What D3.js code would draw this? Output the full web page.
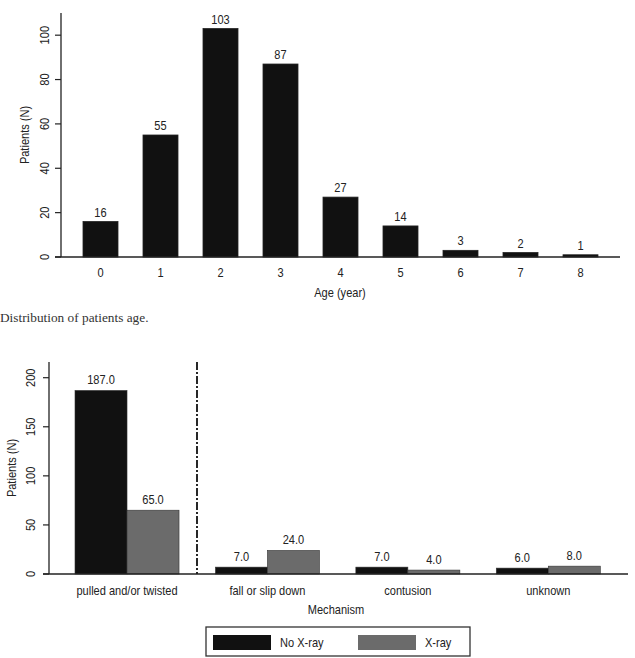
<!DOCTYPE html>
<html><head><meta charset="utf-8">
<script src="https://cdn.jsdelivr.net/npm/d3@7"></script>
<style>body{margin:0;background:#fff}svg{display:block}</style>
</head><body>
<svg id="c" width="635" height="658"></svg>
<script>
const ages = ["0","1","2","3","4","5","6","7","8"];
const ageCounts = [16,55,103,87,27,14,3,2,1];
const ageTicks = [0,20,40,60,80,100];

const mechanisms = ["pulled and/or twisted","fall or slip down","contusion","unknown"];
const seriesNames = ["No X-ray","X-ray"];
const noXray = [187,7,7,6];
const xray = [65,24,4,8];
const mechTicks = [0,50,100,150,200];

const svg = d3.select("#c");
const FONT = "'Liberation Sans', Arial, sans-serif";
const FS = 13;
const SX = 0.85; // narrow (condensed) look
const colors = {"No X-ray":"#111111","X-ray":"#6b6b6b"};
const H = (x,y)=>`translate(${x},${y}) scale(${SX},1)`;
const V = (x,y)=>`translate(${x},${y}) rotate(-90) scale(${SX},1)`;

// ---------- Top chart ----------
const y1 = d3.scaleLinear().domain([0,110]).range([257,13]);
const x1 = d3.scaleBand().domain(ages).range([70.5,610.5]).paddingInner(25/60).paddingOuter(12.5/60);
const g1 = svg.append("g").attr("font-family",FONT).attr("font-size",FS).attr("fill","#222");

g1.selectAll("rect.b").data(ageCounts).join("rect")
  .attr("x",(d,i)=>x1(ages[i])).attr("width",x1.bandwidth())
  .attr("y",d=>y1(d)).attr("height",d=>y1(0)-y1(d))
  .attr("fill","#111").attr("stroke","#222").attr("stroke-width",0.8);
g1.selectAll("text.v").data(ageCounts).join("text")
  .attr("transform",(d,i)=>H(x1(ages[i])+x1.bandwidth()/2, y1(d)-5))
  .attr("text-anchor","middle").text(d=>d);
// x axis
g1.append("line").attr("x1",55).attr("x2",620).attr("y1",y1(0)).attr("y2",y1(0)).attr("stroke","#222").attr("stroke-width",1.3);
g1.selectAll("text.xt").data(ages).join("text")
  .attr("transform",d=>H(x1(d)+x1.bandwidth()/2,277)).attr("text-anchor","middle").text(d=>d);
g1.append("text").attr("transform",H(340,297)).attr("text-anchor","middle").text("Age (year)");
// y axis
g1.append("line").attr("x1",61).attr("x2",61).attr("y1",y1(110)).attr("y2",y1(0)).attr("stroke","#222").attr("stroke-width",1.3);
g1.selectAll("line.yt").data(ageTicks).join("line")
  .attr("x1",55).attr("x2",61).attr("y1",d=>y1(d)).attr("y2",d=>y1(d)).attr("stroke","#222").attr("stroke-width",1.2);
g1.selectAll("text.yl").data(ageTicks).join("text")
  .attr("transform",d=>V(49,y1(d))).attr("text-anchor","middle").text(d=>d);
g1.append("text").attr("transform",V(29,(y1(0)+y1(110))/2)).attr("text-anchor","middle").text("Patients (N)");

// caption
svg.append("text").attr("x",0).attr("y",322).attr("font-family","'Liberation Serif','Times New Roman',serif")
  .attr("font-size",13.3).attr("fill","#333").text("Distribution of patients age.");

// ---------- Bottom chart ----------
const y2 = d3.scaleLinear().domain([0,216]).range([574,362]);
const x2 = d3.scaleBand().domain(mechanisms).range([56.8,618.5]).paddingInner(36.4/140.4).paddingOuter(18.2/140.4);
const xs = d3.scaleBand().domain(seriesNames).range([0,x2.bandwidth()]).padding(0);
const g2 = svg.append("g").attr("font-family",FONT).attr("font-size",FS).attr("fill","#222");
const rows = [];
mechanisms.forEach((m,i)=>{
  rows.push({m, s:"No X-ray", v:noXray[i]});
  rows.push({m, s:"X-ray", v:xray[i]});
});
g2.selectAll("rect.b").data(rows).join("rect")
  .attr("x",d=>x2(d.m)+xs(d.s)).attr("width",xs.bandwidth())
  .attr("y",d=>y2(d.v)).attr("height",d=>y2(0)-y2(d.v))
  .attr("fill",d=>colors[d.s]).attr("stroke","#333").attr("stroke-width",0.6);
g2.selectAll("text.v").data(rows).join("text")
  .attr("transform",d=>H(x2(d.m)+xs(d.s)+xs.bandwidth()/2, y2(d.v)-6))
  .attr("text-anchor","middle").text(d=>d.v.toFixed(1));
// separator
g2.append("line").attr("x1",197).attr("x2",197).attr("y1",y2(216)).attr("y2",y2(0))
  .attr("stroke","#111").attr("stroke-width",1.8).attr("stroke-dasharray","8,2,2,2");
// x axis
g2.append("line").attr("x1",43).attr("x2",628).attr("y1",y2(0)).attr("y2",y2(0)).attr("stroke","#222").attr("stroke-width",1.3);
g2.selectAll("text.xt").data(mechanisms).join("text")
  .attr("transform",d=>H(x2(d)+x2.bandwidth()/2,595)).attr("text-anchor","middle").text(d=>d);
g2.append("text").attr("transform",H(336,614)).attr("text-anchor","middle").text("Mechanism");
// y axis
g2.append("line").attr("x1",49).attr("x2",49).attr("y1",y2(216)).attr("y2",y2(0)).attr("stroke","#222").attr("stroke-width",1.3);
g2.selectAll("line.yt").data(mechTicks).join("line")
  .attr("x1",43).attr("x2",49).attr("y1",d=>y2(d)).attr("y2",d=>y2(d)).attr("stroke","#222").attr("stroke-width",1.2);
g2.selectAll("text.yl").data(mechTicks).join("text")
  .attr("transform",d=>V(35,y2(d))).attr("text-anchor","middle").text(d=>d);
g2.append("text").attr("transform",V(16,(y2(0)+y2(216))/2)).attr("text-anchor","middle").text("Patients (N)");

// legend
const lg = svg.append("g").attr("font-family",FONT).attr("font-size",FS).attr("fill","#222");
lg.append("rect").attr("x",206).attr("y",627).attr("width",264).attr("height",29)
  .attr("fill","none").attr("stroke","#333").attr("stroke-width",1.3);
const legX = [213,358];
seriesNames.forEach((s,i)=>{
  lg.append("rect").attr("x",legX[i]).attr("y",635).attr("width",58).attr("height",15).attr("fill",colors[s]);
  lg.append("text").attr("transform",H(legX[i]+67,647)).text(s);
});
</script>
</body></html>
